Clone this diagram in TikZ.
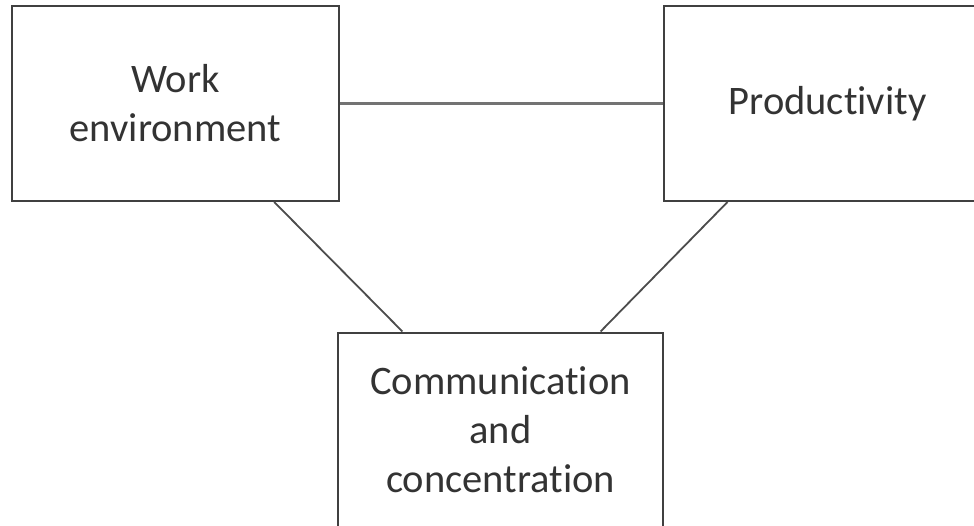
\documentclass[tikz,border=0pt]{standalone}
\usepackage{fontspec}
\setmainfont[RawFeature={-liga;-clig;-dlig}]{Carlito}
\usetikzlibrary{calc}
\begin{document}
\begin{tikzpicture}[x=1pt,y=-1pt,
  box/.style={draw=black!75, line width=2pt, fill=white, minimum width=327pt, minimum height=195pt,
    align=center, inner sep=0pt, font=\fontsize{40.5}{49}\selectfont, text=black!80},
  link/.style={draw=black!70, line width=1.8pt},
  hlink/.style={draw=black!55, line width=3pt}]
\useasboundingbox (0,0) rectangle (974,525);
\clip (0,0) rectangle (974,525);
\fill[white] (0,0) rectangle (974,525);
\node[box] (work) at (175.5,103.5) {Work\\environment};
\node[box] (prod) at (827.5,103.5) {Productivity};
\node[box, minimum width=325pt] (comm) at (500.5,430) {Communication\\and\\concentration};
\draw[hlink] (work.east) -- (prod.west);
\draw[link] ($(work.south west)!0.80!(work.south east)$) -- ($(comm.north west)!0.20!(comm.north east)$);
\draw[link] ($(prod.south west)!0.196!(prod.south east)$) -- ($(comm.north west)!0.806!(comm.north east)$);
\end{tikzpicture}
\end{document}
